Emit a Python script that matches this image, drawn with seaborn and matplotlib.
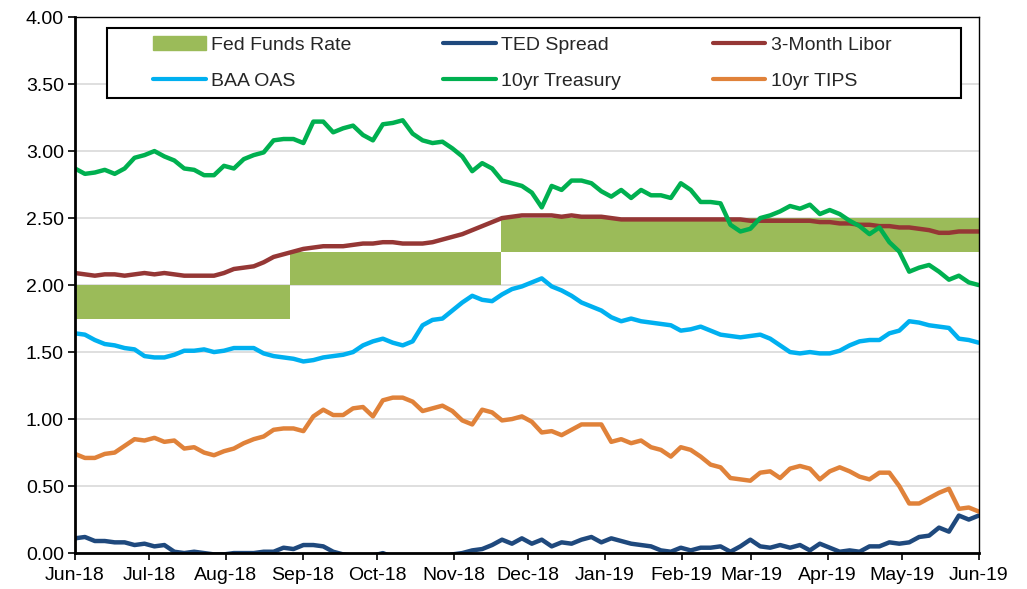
import pandas as pd
import matplotlib.pyplot as plt
import matplotlib.dates as mdates
from matplotlib.patches import Patch, Rectangle
from matplotlib.lines import Line2D
import seaborn as sns

# valores (aprox. cada 4 dias, jun-18 a jun-19)
treasury_10yr = [2.87, 2.83, 2.84, 2.86, 2.83, 2.87, 2.95, 2.97, 3.00, 2.96,
                 2.93, 2.87, 2.86, 2.82, 2.82, 2.89, 2.87, 2.94, 2.97, 2.99,
                 3.08, 3.09, 3.09, 3.06, 3.22, 3.22, 3.14, 3.17, 3.19, 3.12,
                 3.08, 3.20, 3.21, 3.23, 3.13, 3.08, 3.06, 3.07, 3.02, 2.96,
                 2.85, 2.91, 2.87, 2.78, 2.76, 2.74, 2.69, 2.58, 2.74, 2.71,
                 2.78, 2.78, 2.76, 2.70, 2.66, 2.71, 2.65, 2.71, 2.67, 2.67,
                 2.65, 2.76, 2.71, 2.62, 2.62, 2.61, 2.45, 2.40, 2.42, 2.50,
                 2.52, 2.55, 2.59, 2.57, 2.60, 2.53, 2.56, 2.53, 2.48, 2.44,
                 2.38, 2.43, 2.32, 2.25, 2.10, 2.13, 2.15, 2.10, 2.04, 2.07,
                 2.02, 2.00]
libor_3m = [2.09, 2.08, 2.07, 2.08, 2.08, 2.07, 2.08, 2.09, 2.08, 2.09,
            2.08, 2.07, 2.07, 2.07, 2.07, 2.09, 2.12, 2.13, 2.14, 2.17,
            2.21, 2.23, 2.25, 2.27, 2.28, 2.29, 2.29, 2.29, 2.30, 2.31,
            2.31, 2.32, 2.32, 2.31, 2.31, 2.31, 2.32, 2.34, 2.36, 2.38,
            2.41, 2.44, 2.47, 2.50, 2.51, 2.52, 2.52, 2.52, 2.52, 2.51,
            2.52, 2.51, 2.51, 2.51, 2.50, 2.49, 2.49, 2.49, 2.49, 2.49,
            2.49, 2.49, 2.49, 2.49, 2.49, 2.49, 2.49, 2.49, 2.48, 2.48,
            2.48, 2.48, 2.48, 2.48, 2.48, 2.47, 2.47, 2.46, 2.46, 2.45,
            2.45, 2.44, 2.44, 2.43, 2.43, 2.42, 2.41, 2.39, 2.39, 2.40,
            2.40, 2.40]
baa_oas = [1.64, 1.63, 1.59, 1.56, 1.55, 1.53, 1.52, 1.47, 1.46, 1.46,
           1.48, 1.51, 1.51, 1.52, 1.50, 1.51, 1.53, 1.53, 1.53, 1.49,
           1.47, 1.46, 1.45, 1.43, 1.44, 1.46, 1.47, 1.48, 1.50, 1.55,
           1.58, 1.60, 1.57, 1.55, 1.58, 1.70, 1.74, 1.75, 1.81, 1.87,
           1.92, 1.89, 1.88, 1.93, 1.97, 1.99, 2.02, 2.05, 1.99, 1.96,
           1.92, 1.87, 1.84, 1.81, 1.76, 1.73, 1.75, 1.73, 1.72, 1.71,
           1.70, 1.66, 1.67, 1.69, 1.66, 1.63, 1.62, 1.61, 1.62, 1.63,
           1.60, 1.55, 1.50, 1.49, 1.50, 1.49, 1.49, 1.51, 1.55, 1.58,
           1.59, 1.59, 1.64, 1.66, 1.73, 1.72, 1.70, 1.69, 1.68, 1.60,
           1.59, 1.57]
tips_10yr = [0.74, 0.71, 0.71, 0.74, 0.75, 0.80, 0.85, 0.84, 0.86, 0.83,
             0.84, 0.78, 0.79, 0.75, 0.73, 0.76, 0.78, 0.82, 0.85, 0.87,
             0.92, 0.93, 0.93, 0.91, 1.02, 1.07, 1.03, 1.03, 1.08, 1.09,
             1.02, 1.14, 1.16, 1.16, 1.13, 1.06, 1.08, 1.10, 1.06, 0.99,
             0.96, 1.07, 1.05, 0.99, 1.00, 1.02, 0.98, 0.90, 0.91, 0.88,
             0.92, 0.96, 0.96, 0.96, 0.83, 0.85, 0.82, 0.84, 0.79, 0.77,
             0.72, 0.79, 0.77, 0.72, 0.66, 0.64, 0.56, 0.55, 0.54, 0.60,
             0.61, 0.56, 0.63, 0.65, 0.63, 0.55, 0.61, 0.64, 0.61, 0.57,
             0.55, 0.60, 0.60, 0.50, 0.37, 0.37, 0.41, 0.45, 0.48, 0.33,
             0.34, 0.31]
ted_spread = [0.11, 0.12, 0.09, 0.09, 0.08, 0.08, 0.06, 0.07, 0.05, 0.06,
              0.01, 0.00, 0.01, 0.00, -0.01, -0.01, 0.00, 0.00, 0.00, 0.01,
              0.01, 0.04, 0.03, 0.06, 0.06, 0.05, 0.01, -0.01, -0.02, -0.03,
              -0.02, 0.00, -0.03, -0.02, -0.04, -0.04, -0.03, -0.03, -0.01, 0.00,
              0.02, 0.03, 0.06, 0.10, 0.07, 0.11, 0.07, 0.10, 0.05, 0.08,
              0.07, 0.10, 0.12, 0.08, 0.11, 0.09, 0.07, 0.06, 0.05, 0.02,
              0.01, 0.04, 0.02, 0.04, 0.04, 0.05, 0.01, 0.05, 0.10, 0.05,
              0.04, 0.06, 0.04, 0.06, 0.02, 0.07, 0.04, 0.01, 0.02, 0.01,
              0.05, 0.05, 0.08, 0.07, 0.08, 0.12, 0.13, 0.19, 0.16, 0.28,
              0.25, 0.28]

# rango de la tasa de fondos federales
fed_dates = pd.to_datetime(["2018-06-01", "2018-08-27", "2018-11-20", "2019-06-01"])
fed_low = [1.75, 2.00, 2.25, 2.25]
fed_high = [2.00, 2.25, 2.50, 2.50]

dates = pd.date_range("2018-06-01", "2019-06-01", periods=len(treasury_10yr))

series = {
    "TED Spread": ted_spread,
    "3-Month Libor": libor_3m,
    "BAA OAS": baa_oas,
    "10yr Treasury": treasury_10yr,
    "10yr TIPS": tips_10yr,
}
colores = {
    "Fed Funds Rate": "#9BBB59",
    "TED Spread": "#1F497D",
    "3-Month Libor": "#953735",
    "BAA OAS": "#00B0F0",
    "10yr Treasury": "#00B050",
    "10yr TIPS": "#E0823A",
}

df = pd.concat([pd.DataFrame({"date": dates, "value": v, "series": k})
                for k, v in series.items()], ignore_index=True)

sns.set_theme(style="white")
plt.rcParams["font.family"] = ["Liberation Sans", "DejaVu Sans"]

fig = plt.figure(figsize=(10.27, 5.89), dpi=100)
ax = fig.add_axes([0.073, 0.061, 0.880, 0.910])

ax.fill_between(fed_dates, fed_low, fed_high, step="post",
                color=colores["Fed Funds Rate"], linewidth=0, zorder=1)
sns.lineplot(data=df, x="date", y="value", hue="series",
             hue_order=list(series.keys()), palette=colores,
             linewidth=3.2, legend=False, ax=ax, zorder=2)

ax.set_ylim(0, 4)
ax.set_xlim(pd.Timestamp("2018-06-01"), pd.Timestamp("2019-06-01"))
ax.set_yticks([i * 0.5 for i in range(9)])
ax.set_yticklabels([f"{i * 0.5:.2f}" for i in range(9)])
ax.set_xticks(pd.date_range("2018-06-01", "2019-06-01", freq="MS"))
ax.xaxis.set_major_formatter(mdates.DateFormatter("%b-%y"))
ax.set_xlabel("")
ax.set_ylabel("")
ax.tick_params(axis="both", labelsize=14, colors="black", direction="out",
               length=5, width=1.2, bottom=True, left=True, pad=3)
ax.tick_params(axis="x", pad=5)
ax.yaxis.grid(True, color="#d9d9d9", linewidth=1.2)
ax.set_axisbelow(True)
for s in ["left", "bottom"]:
    ax.spines[s].set_color("black")
    ax.spines[s].set_linewidth(2)
for s in ["top", "right"]:
    ax.spines[s].set_color("black")
    ax.spines[s].set_linewidth(1)

# leyenda
handles = [
    Patch(color=colores["Fed Funds Rate"], label="Fed Funds Rate"),
    Line2D([], [], color=colores["BAA OAS"], lw=3, solid_capstyle="round", label="BAA OAS"),
    Line2D([], [], color=colores["TED Spread"], lw=3, solid_capstyle="round", label="TED Spread"),
    Line2D([], [], color=colores["10yr Treasury"], lw=3, solid_capstyle="round", label="10yr Treasury"),
    Line2D([], [], color=colores["3-Month Libor"], lw=3, solid_capstyle="round", label="3-Month Libor"),
    Line2D([], [], color=colores["10yr TIPS"], lw=3, solid_capstyle="round", label="10yr TIPS"),
]
fig.legend(handles=handles, ncol=3, loc="upper left",
           bbox_to_anchor=(153 / 1027, 1 - 36 / 589), frameon=False,
           fontsize=14, handlelength=2.7, handletextpad=0.3,
           columnspacing=4.7, labelspacing=0.95, borderpad=0, borderaxespad=0)
fig.patches.append(Rectangle((107 / 1027, 1 - 98 / 589), 854 / 1027, 70 / 589,
                             transform=fig.transFigure, fill=True, facecolor="white",
                             edgecolor="black", linewidth=1.5, zorder=3))

fig.savefig("out.png", dpi=100)
